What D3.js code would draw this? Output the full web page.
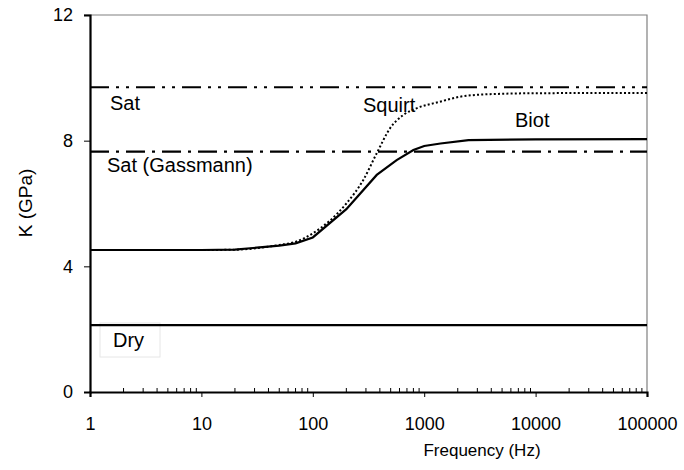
<!DOCTYPE html>
<html>
<head>
<meta charset="utf-8">
<script src="https://cdn.jsdelivr.net/npm/d3@7"></script>
<style>
  body { margin: 0; background: #fff; }
  svg { display: block; font-family: "Liberation Sans", Arial, sans-serif; }
</style>
</head>
<body>
<svg id="chart"></svg>
<script>
//data
let biotFreq = [1, 10, 20, 50, 70, 100, 200, 375, 566, 800, 1000, 1400, 2500, 10000, 100000];
let biotK = [4.52, 4.52, 4.53, 4.66, 4.73, 4.92, 5.82, 6.91, 7.38, 7.7, 7.83, 7.91, 8.02, 8.04, 8.05];

let squirtFreq = [1, 10, 20, 50, 70, 100, 200, 284, 375, 493, 650, 853, 1385, 2100, 3900, 10000, 100000];
let squirtK = [4.52, 4.52, 4.53, 4.68, 4.78, 5.05, 6.0, 6.75, 7.6, 8.39, 8.82, 9.03, 9.24, 9.4, 9.48, 9.51, 9.52];

let satK = 9.7;
let gassmannK = 7.65;
let dryK = 2.13;

let xTicks = [1, 10, 100, 1000, 10000, 100000];
let yTicks = [0, 4, 8, 12];

let width = 684;
let height = 470;
let margin = { top: 15, right: 37, bottom: 78, left: 90 };

var svg = d3.select("#chart")
  .attr("width", width)
  .attr("height", height);

let x = d3.scaleLog()
  .domain([1, 100000])
  .range([margin.left, width - margin.right]);
let y = d3.scaleLinear()
  .domain([0, 12])
  .range([height - margin.bottom, margin.top]);

let x0 = x.range()[0], x1 = x.range()[1];
let y0 = y.range()[0], y1 = y.range()[1];

//grey frame top and right
svg.append("path")
  .attr("d", `M${x0 - 6},${y1}H${x1}V${y0}`)
  .attr("fill", "none")
  .attr("stroke", "#808080")
  .attr("stroke-width", 1.2);

//minor ticks on the log axis (inside)
let minor = [];
for (let d = 1; d < 100000; d *= 10)
  for (let k = 2; k <= 9; k++) minor.push(d * k);

svg.append("g")
  .selectAll("line")
  .data(minor)
  .join("line")
  .attr("x1", d => x(d)).attr("x2", d => x(d))
  .attr("y1", y0).attr("y2", y0 - 4)
  .attr("stroke", "#000")
  .attr("stroke-width", 1);

//x axis
let xAxis = svg.append("g")
  .attr("transform", `translate(0,${y0})`)
  .call(d3.axisBottom(x).tickValues(xTicks).tickFormat(d3.format("d")).tickSizeOuter(0).tickSize(5).tickPadding(20));
xAxis.select(".domain").attr("stroke-width", 2.2);
xAxis.selectAll("text").attr("font-size", 18).attr("fill", "#000").attr("font-family", null);

//y axis
let yAxis = svg.append("g")
  .attr("transform", `translate(${x0},0)`)
  .call(d3.axisLeft(y).tickValues(yTicks).tickSizeOuter(0).tickSize(6).tickPadding(11));
yAxis.select(".domain").attr("stroke-width", 2.2);
yAxis.selectAll("text").attr("font-size", 18).attr("fill", "#000").attr("font-family", null);

//axis titles
svg.append("text")
  .attr("x", 482)
  .attr("y", 456)
  .attr("text-anchor", "middle")
  .attr("font-size", 17)
  .text("Frequency (Hz)");

svg.append("text")
  .attr("transform", `translate(32,${203}) rotate(-90)`)
  .attr("text-anchor", "middle")
  .attr("font-size", 19)
  .text("K (GPa)");

//Dry label box
svg.append("rect")
  .attr("x", 100).attr("y", 323)
  .attr("width", 60).attr("height", 34)
  .attr("fill", "#fff")
  .attr("stroke", "#e6e6e6");

//reference levels
let levels = [
  { name: "Sat", k: satK, dash: "19,7,3,7,3,7" },
  { name: "Gassmann", k: gassmannK, dash: "19,7,3,7" },
  { name: "Dry", k: dryK, dash: null }
];
svg.append("g")
  .selectAll("line")
  .data(levels)
  .join("line")
  .attr("x1", x(1)).attr("x2", x(100000))
  .attr("y1", d => y(d.k)).attr("y2", d => y(d.k))
  .attr("stroke", "#000")
  .attr("stroke-width", 2.2)
  .attr("stroke-dasharray", d => d.dash);

//Biot curve
let biotLine = d3.line()
  .x((d, i) => x(biotFreq[i]))
  .y(d => y(d));
svg.append("path")
  .attr("d", biotLine(biotK))
  .attr("fill", "none")
  .attr("stroke", "#000")
  .attr("stroke-width", 2.2);

//Squirt curve
let squirtLine = d3.line()
  .x((d, i) => x(squirtFreq[i]))
  .y(d => y(d))
  .curve(d3.curveMonotoneX);
svg.append("path")
  .attr("d", squirtLine(squirtK))
  .attr("fill", "none")
  .attr("stroke", "#000")
  .attr("stroke-width", 2)
  .attr("stroke-dasharray", "2,2.2");

//series labels
let labels = [
  { text: "Sat", x: 110, y: 110 },
  { text: "Sat (Gassmann)", x: 107, y: 172 },
  { text: "Squirt", x: 363, y: 112 },
  { text: "Biot", x: 515, y: 127 },
  { text: "Dry", x: 113, y: 347 }
];
svg.append("g")
  .selectAll("text")
  .data(labels)
  .join("text")
  .attr("x", d => d.x)
  .attr("y", d => d.y)
  .attr("font-size", 20)
  .text(d => d.text);
</script>
</body>
</html>
